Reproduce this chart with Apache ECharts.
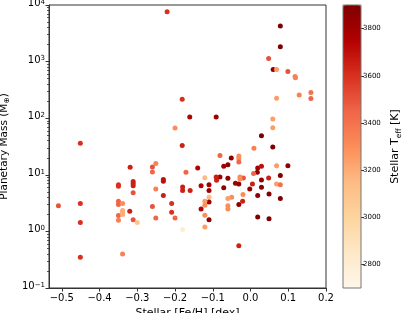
<!DOCTYPE html>
<html><head><meta charset="utf-8">
<script src="https://cdn.jsdelivr.net/npm/echarts@6/dist/echarts.min.js"></script>
<style>html,body{margin:0;padding:0;background:#fff}#c{width:415px;height:313px}</style>
</head><body><div id="c"></div>
<script>
// Stellar metallicity [Fe/H] (dex)
const feh = [
 -0.221,-0.181,-0.161,-0.091,-0.200,-0.181,-0.451,0.079,0.079,0.048,
 0.060,0.069,0.099,0.118,0.119,0.160,0.160,0.129,0.069,0.059,
 0.059,0.029,0.059,0.009,-0.081,-0.051,-0.031,-0.031,-0.031,-0.060,
 -0.071,-0.140,-0.171,0.019,0.029,0.018,0.008,0.069,0.099,0.079,
 0.048,0.029,0.069,0.079,-0.019,0.005,-0.002,0.029,0.019,0.049,
 0.079,0.019,0.049,-0.031,-0.040,-0.031,-0.060,-0.081,-0.091,-0.090,
 -0.131,-0.121,-0.110,-0.110,-0.071,-0.050,-0.060,-0.060,-0.060,-0.020,
 -0.021,-0.031,-0.110,-0.110,-0.121,-0.121,-0.131,-0.121,-0.110,-0.121,
 -0.180,-0.200,-0.209,-0.209,-0.180,-0.180,-0.160,-0.028,-0.028,-0.509,
 -0.451,-0.451,-0.451,-0.350,-0.350,-0.350,-0.350,-0.350,-0.350,-0.339,
 -0.339,-0.339,-0.339,-0.339,-0.319,-0.320,-0.311,-0.311,-0.311,-0.311,
 -0.311,-0.300,-0.260,-0.260,-0.251,-0.251,-0.260,-0.251,-0.231,-0.231,
 -0.231
];
// Planetary mass (Earth masses)
const mass = [
 7600,217,105,105,67,33,36,4250,1830,1140,
 728,728,670,547,517,285,223,258,226,97,
 68,49,31,29.5,22,19.8,21.5,19.4,16.9,15.1,
 14.1,13.2,11.1,13.2,14.1,11.1,10.5,14.5,14.5,9.7,
 8.8,8.1,6.9,6.7,8.8,6.9,5.6,6.0,4.3,4.6,
 3.8,1.79,1.68,0.56,7.1,6.9,8.7,9.1,9.1,8.0,
 6.4,8.9,6.7,5.3,5.9,4.0,3.8,2.85,2.5,4.5,
 3.4,3.0,4.0,3.3,3.4,2.9,2.5,1.92,1.61,1.19,
 1.08,1.72,2.17,3.1,6.1,5.3,5.3,9.1,8.4,2.85,
 3.1,1.43,0.35,6.7,6.3,3.4,3.0,1.9,1.57,3.1,
 2.35,2.17,1.98,0.40,13.6,2.26,7.6,7.0,6.4,4.8,
 1.61,1.43,13.8,11.2,15.8,5.6,2.75,1.72,8.3,7.7,
 4.3
];
// Stellar effective temperature (K)
const teff = [
 3600,3600,3750,3800,3300,3650,3600,3900,3900,3500,
 3850,3250,3500,3350,3350,3400,3450,3350,3250,3250,
 3250,3900,3900,3350,3450,3850,3300,3300,3450,3850,
 3800,3750,3450,3800,3700,3850,3450,3250,3850,3900,
 3650,3850,3250,3400,3500,3650,3850,3850,3850,3900,
 3900,3900,3900,3650,3800,3850,3850,3800,3650,3650,
 3750,3150,3800,3800,3850,3300,3250,3300,3300,3300,
 3650,3850,3150,3800,3250,3300,3750,3300,3850,3250,
 2800,3450,3600,3600,3650,3650,3650,3300,3300,3500,
 3600,3600,3600,3600,3600,3450,3450,3450,3350,3300,
 3200,3200,3200,3350,3650,3650,3650,3650,3650,3500,
 3500,3100,3500,3450,3350,3350,3500,3450,3700,3700,
 3650
];
const xTicks = [-0.5,-0.4,-0.3,-0.2,-0.1,0.0,0.1,0.2];
const yTickExps = [-1,0,1,2,3,4];
const cbTicks = [2800,3000,3200,3400,3600,3800];

const orRd = ['#fff7ec','#fee8c8','#fdd49e','#fdbb84','#fc8d59','#ef6548','#d7301f','#b30000','#7f0000'];
const FONT = 'DejaVu Sans';
const AX = '#333';
const minorVals = [];
for (let n = -1; n < 4; n++) for (let k = 2; k <= 9; k++) minorVals.push(n + Math.log10(k));

const points = feh.map((x, i) => [x, mass[i], teff[i]]);
const fmtMinus = v => (v < 0 ? '\u2212' + (-v).toFixed(1) : v.toFixed(1));

const chart = echarts.init(document.getElementById('c'), null, {renderer: 'canvas'});
chart.setOption({
  animation: false,
  backgroundColor: '#fff',
  grid: [
    {left: 49, top: 5, width: 277, height: 283, outerBoundsMode: 'none', containLabel: false, show: true, borderColor: AX, borderWidth: 1, backgroundColor: 'transparent'},
    {left: 343, top: 5, width: 18, height: 283, outerBoundsMode: 'none', containLabel: false, show: true, borderColor: '#777', borderWidth: 1, backgroundColor: 'transparent', z: 10}
  ],
  xAxis: [
    {type: 'value', gridIndex: 0, min: -0.534, max: 0.2,
     axisLine: {show: true, onZero: false, lineStyle: {color: AX}},
     axisTick: {show: true, length: 3.5, customValues: xTicks, lineStyle: {color: AX}},
     axisLabel: {customValues: xTicks, formatter: fmtMinus, fontFamily: FONT, fontSize: 10, color: '#000', margin: 5},
     splitLine: {show: false},
     name: 'Stellar [Fe/H] [dex]', nameLocation: 'middle', nameGap: 17,
     nameTextStyle: {fontFamily: FONT, fontSize: 11, color: '#000'}},
    {type: 'value', gridIndex: 1, show: false, min: 0, max: 1}
  ],
  yAxis: [
    {type: 'log', logBase: 10, gridIndex: 0, min: 0.1, max: 10000, show: false, position: 'left'},
    {type: 'value', gridIndex: 0, position: 'left', min: -1, max: 4, interval: 1,
     axisLine: {show: true, onZero: false, lineStyle: {color: AX}},
     axisTick: {show: true, length: 3.5, lineStyle: {color: AX}},
     splitLine: {show: false},
     axisLabel: {fontFamily: FONT, color: '#000', margin: 4, padding: [0,0,3,0],
       formatter: v => '{b|10}{s|' + (v < 0 ? '\u2212' + (-v) : v) + '}',
       rich: {b: {fontFamily: FONT, fontSize: 10, lineHeight: 10, verticalAlign: 'bottom', color: '#000'},
              s: {fontFamily: FONT, fontSize: 7, lineHeight: 7, verticalAlign: 'top', padding: [0,0,6,0], color: '#000'}}},
     name: '{t|Planetary Mass (M}{u|\u2295}{t|)}', nameLocation: 'middle', nameGap: 28,
     nameTextStyle: {rich: {t: {fontFamily: FONT, fontSize: 10.5, color: '#000', lineHeight: 12, verticalAlign: 'top'},
                            u: {fontFamily: FONT, fontSize: 7.5, color: '#000', lineHeight: 8, verticalAlign: 'bottom', padding: [4,0,0,0]}}}},
    {type: 'value', gridIndex: 0, position: 'left', min: -1, max: 4,
     axisLine: {show: false, onZero: false},
     axisTick: {show: true, length: 2, customValues: minorVals, lineStyle: {color: AX, width: 0.8}},
     axisLabel: {show: false}, splitLine: {show: false}},
    {type: 'value', gridIndex: 1, position: 'right', min: 2700, max: 3900,
     axisLine: {show: false, onZero: false},
     axisTick: {show: true, length: 3, customValues: cbTicks, lineStyle: {color: AX}},
     axisLabel: {customValues: cbTicks, formatter: v => String(v), fontFamily: FONT, fontSize: 7, color: '#000', margin: 2},
     splitLine: {show: false},
     name: '{t|Stellar T}{u|eff}{t| [K]}', nameLocation: 'middle', nameGap: 29,
     nameTextStyle: {rich: {t: {fontFamily: FONT, fontSize: 11, color: '#000', lineHeight: 13, verticalAlign: 'top'},
                            u: {fontFamily: FONT, fontSize: 7.5, color: '#000', lineHeight: 8, verticalAlign: 'bottom', padding: [5,0,0,0]}}}}
  ],
  visualMap: {
    type: 'continuous', min: 2700, max: 3900, dimension: 2, seriesIndex: 0,
    inRange: {color: orRd}, calculable: false, text: ['', ''], showLabel: false,
    left: 343, top: 5, itemWidth: 18, itemHeight: 283, padding: 0, orient: 'vertical', z: 4
  },
  series: [{
    type: 'scatter', xAxisIndex: 0, yAxisIndex: 0, symbol: 'circle', symbolSize: 5,
    itemStyle: {opacity: 1}, data: points
  }]
});
</script></body></html>
